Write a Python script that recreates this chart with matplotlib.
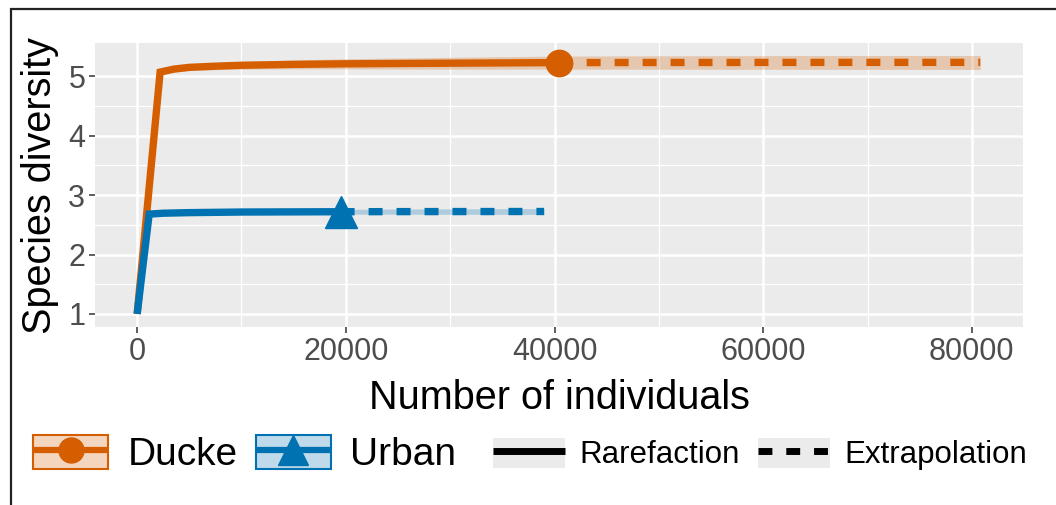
import numpy as np
import matplotlib
matplotlib.use("Agg")
import matplotlib.pyplot as plt
from matplotlib.patches import Patch, Rectangle
from matplotlib.lines import Line2D

plt.rcParams['font.family'] = ['Liberation Sans', 'DejaVu Sans']

# Couleurs
orange = '#D55E00'
bleu = '#0072B2'

# Ducke : rarefaction puis extrapolation
ducke_rare_x = [1, 2200, 3500, 5000, 7500, 10000, 15000, 20000, 30000, 40400]
ducke_rare_y = [1.0, 5.07, 5.12, 5.15, 5.17, 5.185, 5.20, 5.21, 5.22, 5.23]
ducke_rare_lo = [1.0, 5.04, 5.08, 5.10, 5.11, 5.12, 5.125, 5.125, 5.12, 5.12]
ducke_rare_hi = [1.0, 5.10, 5.16, 5.20, 5.23, 5.25, 5.275, 5.295, 5.32, 5.34]
ducke_ext_x = [40400, 50000, 60000, 70000, 80800]
ducke_ext_y = [5.23, 5.232, 5.233, 5.234, 5.234]
ducke_ext_lo = [5.12, 5.118, 5.117, 5.116, 5.115]
ducke_ext_hi = [5.34, 5.345, 5.348, 5.35, 5.35]

# Urban
urban_rare_x = [1, 1150, 2500, 5000, 10000, 19500]
urban_rare_y = [1.0, 2.68, 2.695, 2.705, 2.715, 2.72]
urban_rare_lo = [1.0, 2.66, 2.67, 2.675, 2.68, 2.68]
urban_rare_hi = [1.0, 2.70, 2.72, 2.735, 2.75, 2.76]
urban_ext_x = [19500, 25000, 30000, 39000]
urban_ext_y = [2.72, 2.722, 2.723, 2.724]
urban_ext_lo = [2.68, 2.678, 2.677, 2.675]
urban_ext_hi = [2.76, 2.766, 2.769, 2.773]

x_ticks = [0, 20000, 40000, 60000, 80000]
y_ticks = [1, 2, 3, 4, 5]

fig = plt.figure(figsize=(10.56, 5.05), dpi=100)
ax = fig.add_axes([95/1056, 1-327/505, (1023-95)/1056, (327-43)/505])
ax.set_facecolor('#EBEBEB')

# Bandes de confiance
ax.fill_between(ducke_rare_x, ducke_rare_lo, ducke_rare_hi, color=orange, alpha=0.25, lw=0)
ax.fill_between(ducke_ext_x, ducke_ext_lo, ducke_ext_hi, color=orange, alpha=0.25, lw=0)
ax.fill_between(urban_rare_x, urban_rare_lo, urban_rare_hi, color=bleu, alpha=0.25, lw=0)
ax.fill_between(urban_ext_x, urban_ext_lo, urban_ext_hi, color=bleu, alpha=0.25, lw=0)

# Courbes
lw = 5.3
ax.plot(ducke_rare_x, ducke_rare_y, color=orange, lw=lw, solid_capstyle='butt', solid_joinstyle='miter')
ax.plot(ducke_ext_x, ducke_ext_y, color=orange, lw=lw, ls=(0, (1.9, 1.9)), dash_capstyle='butt')
ax.plot(urban_rare_x, urban_rare_y, color=bleu, lw=lw, solid_capstyle='butt', solid_joinstyle='miter')
ax.plot(urban_ext_x, urban_ext_y, color=bleu, lw=lw, ls=(0, (1.9, 1.9)), dash_capstyle='butt')

# Points observés
ax.plot(ducke_rare_x[-1], ducke_rare_y[-1], 'o', color=orange, ms=19)
ax.plot(urban_rare_x[-1], urban_rare_y[-1], '^', color=bleu, ms=23)

# Axes
ax.set_xlim(-4040, 84900)
ax.set_ylim(0.78, 5.56)
ax.set_xticks(x_ticks)
ax.set_yticks(y_ticks)
ax.set_xticks([10000, 30000, 50000, 70000], minor=True)
ax.set_yticks([1.5, 2.5, 3.5, 4.5], minor=True)
ax.grid(which='major', color='white', lw=1.8)
ax.grid(which='minor', color='white', lw=0.9)
ax.set_axisbelow(True)
for s in ax.spines.values():
    s.set_visible(False)
ax.tick_params(which='major', length=4, width=1.1, color='#333333', labelsize=22,
               labelcolor='#4D4D4D', pad=3)
ax.tick_params(which='minor', length=0)
ax.set_xlabel("Number of individuals", fontsize=28.5, labelpad=9)
ax.set_ylabel("Species diversity", fontsize=28.5, labelpad=7)

# Légende des sites
h_ducke = (Patch(facecolor=(0.835, 0.369, 0.0, 0.25), edgecolor=orange, lw=1.5),
           Line2D([], [], color=orange, lw=4.5, marker='o', ms=18, solid_capstyle='butt'))
h_urban = (Patch(facecolor=(0.0, 0.447, 0.698, 0.25), edgecolor=bleu, lw=1.5),
           Line2D([], [], color=bleu, lw=4.5, marker='^', ms=21, solid_capstyle='butt'))
leg1 = fig.legend([h_ducke, h_urban], ["Ducke", "Urban"], loc='center left',
                  bbox_to_anchor=(33/1056, 1-454/505), ncol=2, frameon=False,
                  fontsize=28, handlelength=1.93, handleheight=1.0, handletextpad=0.5,
                  columnspacing=0.47, borderpad=0, borderaxespad=0)

# Légende des méthodes
h_rare = (Patch(facecolor='#EBEBEB', lw=0), Line2D([], [], color='black', lw=5, solid_capstyle='butt'))
h_ext = (Patch(facecolor='#EBEBEB', lw=0), Line2D([], [], color='black', lw=5, ls=(0, (2, 2)), dash_capstyle='butt'))
leg2 = fig.legend([h_rare, h_ext], ["Rarefaction", "Extrapolation"], loc='center left',
                  bbox_to_anchor=(493/1056, 1-454/505), ncol=2, frameon=False,
                  fontsize=22.5, handlelength=2.3, handleheight=1.1, handletextpad=0.45,
                  columnspacing=0.6, borderpad=0, borderaxespad=0)

# Cadre
fig.patches.append(Rectangle((11/1056, -0.1), 1.2, 1.1 - 9/505, transform=fig.transFigure,
                             fill=False, ec='#222222', lw=1.6))

fig.savefig("out.png", dpi=100)
